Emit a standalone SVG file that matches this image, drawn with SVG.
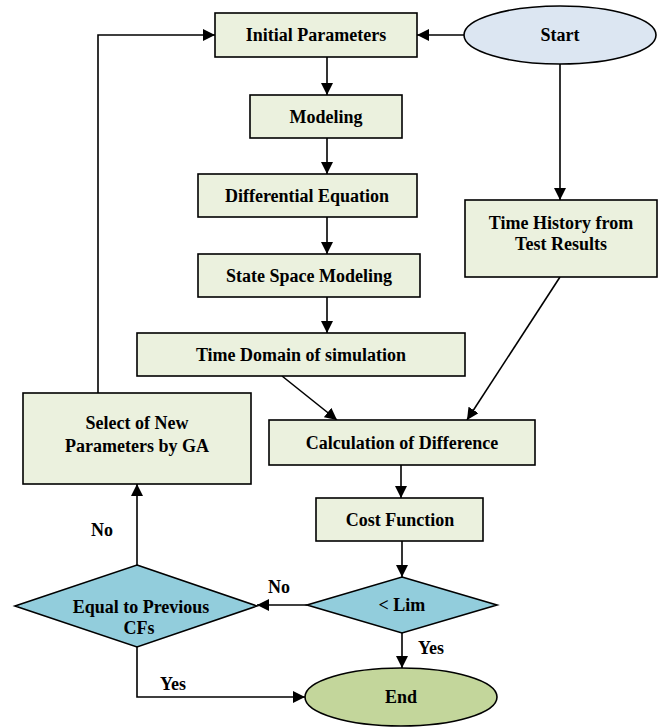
<svg xmlns="http://www.w3.org/2000/svg" width="662" height="727" viewBox="0 0 662 727">
<style>
.box{fill:#EBF1DE;stroke:#000;stroke-width:1.6}
.dia{fill:#92CDDC;stroke:#000;stroke-width:1.6}
text{font-family:"Liberation Serif","Times New Roman",serif;font-weight:bold;font-size:18px;fill:#000;text-anchor:middle}
.lbl{text-anchor:start}
.con{fill:none;stroke:#000;stroke-width:1.6}
</style>
<defs>
<marker id="ah" viewBox="0 0 12 12" refX="12" refY="6" markerWidth="12" markerHeight="12" markerUnits="userSpaceOnUse" orient="auto">
<path d="M0,0 L12,6 L0,12 Z" fill="#000"/>
</marker>
</defs>
<rect width="662" height="727" fill="#fff"/>
<g id="connectors">
<path class="con" d="M464,35 L417,35" marker-end="url(#ah)"/>
<path class="con" d="M327,57 L327,95" marker-end="url(#ah)"/>
<path class="con" d="M327,138 L327,174" marker-end="url(#ah)"/>
<path class="con" d="M327,217 L327,254" marker-end="url(#ah)"/>
<path class="con" d="M327,297 L327,333" marker-end="url(#ah)"/>
<path class="con" d="M560,64 L560,200" marker-end="url(#ah)"/>
<path class="con" d="M282,376 L337,420" marker-end="url(#ah)"/>
<path class="con" d="M560,277 L467,420" marker-end="url(#ah)"/>
<path class="con" d="M401,465 L401,498" marker-end="url(#ah)"/>
<path class="con" d="M402,541 L402,577" marker-end="url(#ah)"/>
<path class="con" d="M402,633 L402,668" marker-end="url(#ah)"/>
<path class="con" d="M307,605 L257,605" marker-end="url(#ah)"/>
<path class="con" d="M137,565 L137,484" marker-end="url(#ah)"/>
<path class="con" d="M98,393 L98,35 L215,35" marker-end="url(#ah)"/>
<path class="con" d="M137,647 L137,697 L305,697" marker-end="url(#ah)"/>
<text class="lbl" x="418" y="654">Yes</text>
<text class="lbl" x="268" y="593">No</text>
<text class="lbl" x="91" y="536">No</text>
<text class="lbl" x="160" y="690">Yes</text>
</g>
<g id="start">
<ellipse cx="560" cy="35" rx="96" ry="29" fill="#DCE6F2" stroke="#000" stroke-width="1.6"/>
<text x="560" y="41">Start</text>
</g>
<g id="initial-parameters">
<rect class="box" x="215" y="13" width="202" height="44"/>
<text x="316" y="41">Initial Parameters</text>
</g>
<g id="modeling">
<rect class="box" x="250" y="95" width="152" height="43"/>
<text x="326" y="123">Modeling</text>
</g>
<g id="differential-equation">
<rect class="box" x="198" y="174" width="219" height="43"/>
<text x="307" y="202">Differential Equation</text>
</g>
<g id="state-space-modeling">
<rect class="box" x="198" y="254" width="222" height="43"/>
<text x="309" y="282">State Space Modeling</text>
</g>
<g id="time-domain">
<rect class="box" x="137" y="333" width="328" height="43"/>
<text x="301" y="361">Time Domain of simulation</text>
</g>
<g id="time-history">
<rect class="box" x="465" y="200" width="192" height="77"/>
<text x="561" y="229">Time History from</text>
<text x="561" y="250">Test Results</text>
</g>
<g id="calculation-of-difference">
<rect class="box" x="269" y="420" width="266" height="45"/>
<text x="402" y="449">Calculation of Difference</text>
</g>
<g id="cost-function">
<rect class="box" x="316" y="498" width="167" height="43"/>
<text x="400" y="526">Cost Function</text>
</g>
<g id="lim">
<polygon class="dia" points="402,577 497,605 402,633 307,605"/>
<text x="402" y="611">&lt; Lim</text>
</g>
<g id="select-new-parameters">
<rect class="box" x="23" y="393" width="228" height="91"/>
<text x="137" y="429">Select of New</text>
<text x="137" y="452">Parameters by GA</text>
</g>
<g id="equal-previous">
<polygon class="dia" points="137,565 257,606 137,647 15,606"/>
<text x="141" y="613">Equal to Previous</text>
<text x="139" y="634">CFs</text>
</g>
<g id="end">
<ellipse cx="401" cy="697" rx="96" ry="29" fill="#C3D69B" stroke="#000" stroke-width="1.6"/>
<text x="401" y="703">End</text>
</g>
</svg>
